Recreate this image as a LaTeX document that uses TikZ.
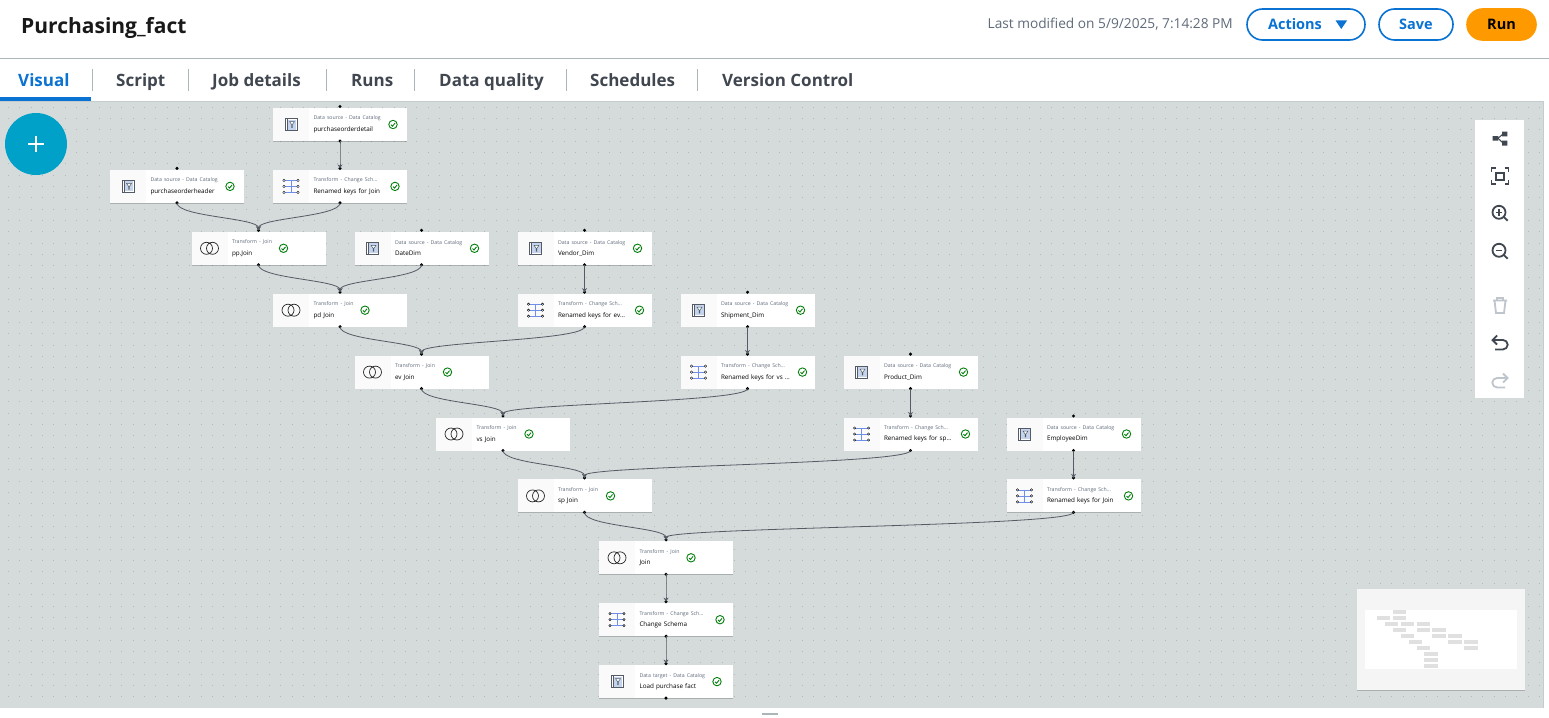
\documentclass[tikz,border=0pt]{standalone}
\usepackage{fontspec}
\setmainfont{Open Sans}
\usepackage{xcolor}
\usetikzlibrary{positioning,arrows.meta,calc,shadows}
\definecolor{fondCanevas}{HTML}{D5DBDB}
\definecolor{pointCanevas}{HTML}{B0BABA}
\definecolor{filet}{HTML}{AAB7B8}
\definecolor{bleuAction}{HTML}{0972D3}
\definecolor{orangeRun}{HTML}{FF9900}
\definecolor{cyanPlus}{HTML}{00A1C9}
\definecolor{ardoise}{HTML}{414750}
\definecolor{grisTexte}{HTML}{5F6B7A}
\definecolor{grisPale}{HTML}{BFC5CC}
\definecolor{grisLien}{HTML}{545B64}
\definecolor{vertOk}{HTML}{037F0C}
\definecolor{bleuIcone}{HTML}{6F8FE8}
\definecolor{bleuPale}{HTML}{C5D4EE}
\definecolor{celluleIcone}{HTML}{FAFAFA}
\definecolor{miniBarre}{HTML}{E0E0E0}
\newcommand{\carteTxt}[2]{\vspace*{2pt}\textcolor{grisTexte}{\fontsize{5.2}{9.5}\selectfont #1}\\#2}
\tikzset{
  carte/.style={
    rectangle, fill=white, minimum height=33pt, text width=134pt,
    inner xsep=0pt, inner ysep=0pt, outer sep=0pt, align=left,
    font=\fontsize{6.3}{9.5}\selectfont, text=black,
    execute at begin node={\leftskip=40.5pt\relax},
    drop shadow={shadow xshift=0pt, shadow yshift=-.7pt, opacity=.2, fill=black}},
  demi/.style={xshift=81.5pt},
  fleche/.style={-{Stealth[length=4pt,width=5pt]}, draw=grisLien, line width=.8pt, shorten >=1.5pt},
  lien/.style={to path={.. controls ($(\tikztostart)+(0,14)$) and ($(\tikztotarget)+(0,-14)$) .. (\tikztotarget)}},
  onglet/.style={anchor=base west, font=\fontsize{17}{20}\selectfont\bfseries, text=ardoise, inner sep=0pt},
  bouton/.style={rectangle, rounded corners=15.5pt, minimum height=31pt, draw=bleuAction, line width=1.6pt,
    fill=white, text=bleuAction, font=\fontsize{14.5}{16}\selectfont\bfseries, inner sep=0pt},
  icoOutil/.style={draw=ardoise, line width=1.8pt},
  icoPale/.style={draw=grisPale, line width=1.8pt},
  icoCat/.pic={
    \draw[grisLien, line width=.5pt, fill=white] (-6,-6) rectangle (6,6);
    \draw[grisLien, line width=.5pt] (-4,-6) -- (-4,6);
    \fill[bleuPale] (-3.2,-5) rectangle (5,5);
    \draw[grisLien, line width=.5pt, fill=white] (-1.5,-3) -- (3.5,-3) -- (1.4,0) -- (1.4,3) -- (.6,3) -- (.6,0) -- cycle;
  },
  icoSchema/.pic={
    \draw[bleuIcone, line width=.7pt] (-7,-6) -- (7,-6) (-7,0) -- (7,0) (-7,6) -- (7,6) (0,-6) -- (0,6);
    \foreach \yy in {-6,0,6} {
      \draw[black, fill=white, line width=.4pt] (-7,\yy) circle (1.2);
      \draw[black, fill=white, line width=.4pt] (7,\yy) circle (1.2);
    }
  },
  icoJoin/.pic={
    \draw[black!85, line width=.7pt] (-3,0) circle (6) (3,0) circle (6);
  },
  icoOk/.pic={
    \draw[vertOk, line width=.9pt] (0,0) circle (4.2);
    \draw[vertOk, line width=.9pt] (-2,.2) -- (-.5,1.7) -- (2,-1.4);
  }
}

\begin{document}
\begin{tikzpicture}[x=1pt, y=-1pt, node distance=28.9pt and 29pt]
  \useasboundingbox (0,0) rectangle (1549,717);
  \fill[white] (0,0) rectangle (1549,717);

  % --- Canevas
  \fill[fondCanevas] (0,101) rectangle (1543,707.5);
  \foreach \y in {107,118.34,...,705}
    \draw[pointCanevas, line width=.9pt, dash pattern=on .9pt off 10.44pt] (8,\y) -- (1543,\y);
  \draw[filet!70, line width=.8pt] (0,101) -- (1543,101);
  \draw[filet!70, line width=.8pt] (1543,101) -- (1543,707.5);
  \draw[filet, line width=1pt] (0,58.5) -- (1549,58.5);
  \draw[filet, line width=1.5pt] (762,714) -- (778,714);

  % --- Entete
  \node[anchor=base west, inner sep=0pt, font=\fontsize{21}{24}\selectfont\bfseries, text=black!90] (titre) at (21,34) {Purchasing\_fact};
  \node[anchor=base east, inner sep=0pt, font=\fontsize{13.7}{14}\selectfont, text=grisTexte] (modif) at (1233,29) {Last modified on 5/9/2025, 7:14:28 PM};
  \node[bouton, minimum width=118pt] (btnActions) at (1306,24.5) {\hspace*{-22pt}Actions};
  \fill[bleuAction] (1335.6,20.5) -- (1347,20.5) -- (1341.3,29) -- cycle;
  \node[bouton, minimum width=74pt] (btnSave) at (1416,24.5) {Save};
  \node[bouton, minimum width=69pt, fill=orangeRun, draw=orangeRun, text=black] (btnRun) at (1501.5,24.5) {Run};

  % --- Onglets
  \node[onglet, text=bleuAction] (ongVisual) at (18,86) {Visual};
  \foreach \nom/\lab/\x in {ongScript/Script/116, ongJob/Job details/212, ongRuns/Runs/351,
      ongQualite/Data quality/439, ongPlan/Schedules/590, ongVersion/Version Control/722}
    \node[onglet] (\nom) at (\x,86) {\lab};
  \foreach \x in {92.5,188,326,414,566,697}
    \draw[filet, line width=.8pt] (\x,69) -- (\x,91);
  \fill[bleuAction] (0,97) rectangle (90.5,100.5);

  % --- Bouton plus
  \node[circle, fill=cyanPlus, minimum size=62pt, inner sep=0pt] (btnPlus) at (36,144) {};
  \draw[white, line width=1.6pt] (28,144) -- (44,144) (36,136) -- (36,152);

  % --- Cartes du job
  \node[carte] (detail) at (340,124.5) {\carteTxt{Data source - Data Catalog}{purchaseorderdetail}};
  \node[carte, below=of detail] (renKeys) {\carteTxt{Transform - Change Sch…}{Renamed keys for Join}};
  \node[carte, left=of renKeys] (header) {\carteTxt{Data source - Data Catalog}{purchaseorderheader}};
  \node[carte, below=of renKeys, xshift=-81.5pt] (ppJoin) {\carteTxt{Transform - Join}{pp.Join}};
  \node[carte, right=of ppJoin] (dateDim) {\carteTxt{Data source - Data Catalog}{DateDim}};
  \node[carte, right=of dateDim] (vendorDim) {\carteTxt{Data source - Data Catalog}{Vendor\_Dim}};
  \node[carte, below=of ppJoin, demi] (pdJoin) {\carteTxt{Transform - Join}{pd Join}};
  \node[carte, below=of vendorDim] (renEv) {\carteTxt{Transform - Change Sch…}{Renamed keys for ev…}};
  \node[carte, right=of renEv] (shipDim) {\carteTxt{Data source - Data Catalog}{Shipment\_Dim}};
  \node[carte, below=of pdJoin, demi] (evJoin) {\carteTxt{Transform - Join}{ev Join}};
  \node[carte, below=of shipDim] (renVs) {\carteTxt{Transform - Change Sch…}{Renamed keys for vs …}};
  \node[carte, right=of renVs] (prodDim) {\carteTxt{Data source - Data Catalog}{Product\_Dim}};
  \node[carte, below=of evJoin, demi] (vsJoin) {\carteTxt{Transform - Join}{vs Join}};
  \node[carte, below=of prodDim] (renSp) {\carteTxt{Transform - Change Sch…}{Renamed keys for sp…}};
  \node[carte, right=of renSp] (empDim) {\carteTxt{Data source - Data Catalog}{EmployeeDim}};
  \node[carte, below=of vsJoin, demi] (spJoin) {\carteTxt{Transform - Join}{sp Join}};
  \node[carte, below=of empDim] (renFin) {\carteTxt{Transform - Change Sch…}{Renamed keys for Join}};
  \node[carte, below=of spJoin, demi] (finJoin) {\carteTxt{Transform - Join}{Join}};
  \node[carte, below=of finJoin] (chgSchema) {\carteTxt{Transform - Change Sch…}{Change Schema}};
  \node[carte, below=of chgSchema] (loadFact) {\carteTxt{Data target - Data Catalog}{Load purchase fact}};

  % --- Cellule d'icone, coche et ports
  \foreach \n/\ic/\dx in {detail/icoCat/120, header/icoCat/120, renKeys/icoSchema/122, ppJoin/icoJoin/92,
      dateDim/icoCat/120, vendorDim/icoCat/120, pdJoin/icoJoin/92, renEv/icoSchema/122, shipDim/icoCat/120,
      evJoin/icoJoin/93, renVs/icoSchema/122, prodDim/icoCat/120, vsJoin/icoJoin/93, renSp/icoSchema/122,
      empDim/icoCat/120, spJoin/icoJoin/93, renFin/icoSchema/122, finJoin/icoJoin/92, chgSchema/icoSchema/121,
      loadFact/icoCat/118} {
    \fill[celluleIcone] (\n.north west) rectangle ($(\n.south west)+(36,0)$);
    \pic at ($(\n.west)+(18,0)$) {\ic};
    \pic at ($(\n.west)+(\dx,0)$) {icoOk};
    \fill[black] (\n.south) circle (1.7);
    \fill[black] ($(\n.north)+(0,-1.5)$) circle (1.7);
  }

  % --- Liens
  \foreach \a/\b in {detail/renKeys, header/ppJoin, renKeys/ppJoin, ppJoin/pdJoin, dateDim/pdJoin,
      vendorDim/renEv, pdJoin/evJoin, renEv/evJoin, shipDim/renVs, evJoin/vsJoin, renVs/vsJoin,
      prodDim/renSp, vsJoin/spJoin, renSp/spJoin, empDim/renFin, spJoin/finJoin, renFin/finJoin,
      finJoin/chgSchema, chgSchema/loadFact}
    \draw[fleche] (\a.south) to[lien] (\b.north);

  % --- Barre d'outils
  \node[rectangle, fill=white, minimum width=49pt, minimum height=278pt, inner sep=0pt] (outils) at (1499.5,259) {};
  \fill[ardoise] (1492.7,136) rectangle (1498.3,140.7) (1502,131.7) rectangle (1507.3,136.3) (1502,140.7) rectangle (1507.3,145.7);
  \draw[ardoise, line width=1pt] (1498,138.3) -- (1503,134) (1498,138.3) -- (1503,143);
  \draw[icoOutil] (1491.5,172) -- (1491.5,168) -- (1495.5,168) (1504.5,168) -- (1508.5,168) -- (1508.5,172)
    (1508.5,180) -- (1508.5,184) -- (1504.5,184) (1495.5,184) -- (1491.5,184) -- (1491.5,180);
  \draw[icoOutil, line width=2pt] (1496.3,172.5) rectangle (1503.7,179.5);
  \draw[icoOutil] (1499,212.3) circle (6.5) (1503.8,217) -- (1507.7,220.7);
  \draw[icoOutil, line width=1.3pt] (1495.8,212.3) -- (1502.2,212.3) (1499,209.1) -- (1499,215.5);
  \draw[icoOutil] (1499,250.3) circle (6.5) (1503.8,255) -- (1507.7,258.7);
  \draw[icoOutil, line width=1.3pt] (1495.8,250.3) -- (1502.2,250.3);
  \draw[icoPale] (1493,300.5) -- (1507,300.5) (1497,300.5) -- (1497,298) -- (1503,298) -- (1503,300.5)
    (1494.5,300.5) -- (1496,313) -- (1504,313) -- (1505.5,300.5);
  \draw[icoOutil] (1497,335.5) -- (1492.5,340) -- (1497,344.5) (1492.5,340) -- (1503,340) arc (-90:90:4.7) -- (1495,349.4);
  \draw[icoPale] (1503,373.5) -- (1507.5,378) -- (1503,382.5) (1507.5,378) -- (1497,378) arc (270:90:4.7) -- (1505,387.4);

  % --- Mini-carte
  \node[rectangle, fill=black!4, minimum width=168pt, minimum height=101pt, inner sep=0pt,
        drop shadow={shadow xshift=0pt, shadow yshift=-1pt, opacity=.2, fill=black}] (miniCarte) at (1441,639.5) {};
  \node[rectangle, fill=white, minimum width=152pt, minimum height=59pt, inner sep=0pt] (miniCadre) at (1441,639.5) {};
  \foreach \xa/\xb/\yy in {159/198/95, 111/150/114, 159/198/114, 135/174/132, 183/222/132, 231/270/132,
      159/198/151, 231/270/151, 276/318/151, 183/222/169, 276/318/169, 324/366/169, 207/246/187, 324/366/187,
      372/414/187, 231/270/205, 372/414/205, 252/294/223, 252/294/241, 252/294/259}
    \fill[miniBarre] ({1340+\xa/3},{580+\yy/3-2}) rectangle ({1340+\xb/3},{580+\yy/3+2});
\end{tikzpicture}
\end{document}
